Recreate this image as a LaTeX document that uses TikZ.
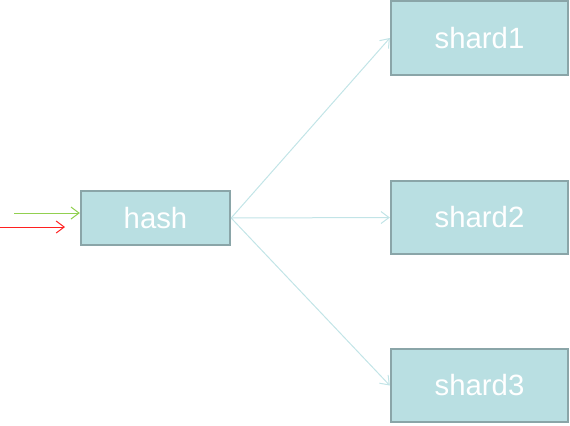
\documentclass[tikz,border=0pt]{standalone}
\usepackage{fontspec}
\setmainfont{Liberation Sans}
\usepackage{tikz}
\usetikzlibrary{arrows.meta}

\definecolor{caixa}{HTML}{B9DFE2}
\definecolor{borda}{HTML}{8AA5A8}
\definecolor{seta}{HTML}{C2E4E7}
\definecolor{verde}{HTML}{92D050}
\definecolor{vermelho}{HTML}{FF2020}

\tikzset{
	hashbox/.style={draw=borda, fill=caixa, line width=1.5pt, text=white,
		font=\fontsize{22}{26}\selectfont, minimum width=112pt, minimum height=41pt, inner sep=0pt},
	shardbox/.style={hashbox, minimum width=133pt, minimum height=55pt},
	ligacao/.style={draw=seta, line width=0.75pt, -{Straight Barb[length=6pt, width=9pt]}}
}

\begin{document}
\begin{tikzpicture}[x=0.75pt, y=-0.75pt]
		\useasboundingbox (0,0) rectangle (570,425);
		
		% Caixas
		\node[hashbox] (hash) at (155.5,218) {hash};
		\node[shardbox] (shard1) at (479.5,38) {shard1};
		\node[shardbox] (shard2) at (479.5,217.5) {shard2};
		\node[shardbox] (shard3) at (479.5,385.5) {shard3};
		
		% Entradas
		\coordinate (entradaVerde) at (14,213);
		\coordinate (entradaVermelha) at (0,227);
		\coordinate (fimVermelha) at (65,227);
		\draw[verde, line width=0.75pt, -{Straight Barb[length=6pt, width=9pt]}] (entradaVerde) -- (entradaVerde -| hash.west);
		\draw[vermelho, line width=0.75pt, -{Straight Barb[length=6pt, width=9pt]}] (entradaVermelha) -- (fimVermelha);
		
		% Ligacoes para os shards
		\draw[ligacao] (hash.east) -- (shard1.west);
		\draw[ligacao] (hash.east) -- (shard2.west);
		\draw[ligacao] (hash.east) -- (shard3.west);
	\end{tikzpicture}
\end{document}
